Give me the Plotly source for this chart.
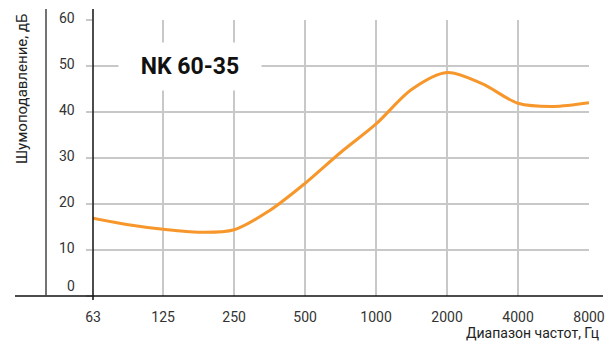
import numpy as np
import plotly.graph_objects as go

# Data (half-octave steps)
freq = [63, 89, 125, 177, 250, 354, 500, 707, 1000, 1414, 2000, 2828, 4000, 5657, 8000]
attenuation = [16.9, 15.5, 14.5, 13.85, 14.4, 18.6, 24.5, 31.2, 37.4, 44.9, 48.6, 46.1, 41.9, 41.2, 42.0]

x_ticks = [63, 125, 250, 500, 1000, 2000, 4000, 8000]
x_tick_text = ["63", "125", "250", "500", "1000", "2000", "4000", "8000"]
y_ticks = [0, 10, 20, 30, 40, 50, 60]

title_text = "NK 60-35"
y_title = "Шумоподавление, дБ"
x_title = "Диапазон частот, Гц"

FONT = "Roboto"
W, H = 612, 346
L, R, T, B = 93, 23, 20, 50
PW = W - L - R
PH = H - T - B

def px(xp):
    return (xp - L) / PW

def py(yp):
    return (H - B - yp) / PH

fig = go.Figure()
fig.add_trace(go.Scatter(
    x=freq, y=attenuation, mode="lines",
    line=dict(color="#F7962A", width=3, shape="spline", smoothing=0.9),
    hoverinfo="skip", showlegend=False,
))

grid = "#c8c8c8"
fig.update_xaxes(
    type="log", range=[np.log10(63), np.log10(8000)],
    tickvals=x_ticks, ticktext=x_tick_text,
    showgrid=True, gridcolor=grid, gridwidth=1.5,
    showline=False, zeroline=False, ticks="",
    ticklabelstandoff=11, automargin=False,
    tickfont=dict(family=FONT, size=14, color="#333333"),
)
fig.update_yaxes(
    range=[0, 60], tickvals=y_ticks,
    showgrid=True, gridcolor=grid, gridwidth=1.5,
    showline=False, zeroline=False,
    ticks="outside", ticklen=6, tickcolor=grid, tickwidth=1.5,
    showticklabels=False, automargin=False,
)

annotations = []
for v in y_ticks:
    annotations.append(dict(
        x=px(77), xref="paper", y=v, yref="y", xanchor="right", yanchor="middle",
        text=str(v), showarrow=False, yshift=(10 if v == 0 else 2),
        font=dict(family=FONT, size=14, color="#333333"),
    ))
annotations.append(dict(
    x=px(190), xref="paper", y=50, yref="y", xanchor="center", yanchor="middle",
    text="<b>" + title_text + "</b>", showarrow=False,
    bgcolor="white", borderpad=10, width=122,
    font=dict(family=FONT, size=23, color="#111111"),
))
annotations.append(dict(
    x=px(601), xref="paper", y=py(333), yref="paper", xanchor="right", yanchor="middle",
    text=x_title, showarrow=False,
    font=dict(family=FONT, size=14, color="#222222"),
))
annotations.append(dict(
    x=px(22), xref="paper", y=py(89), yref="paper", xanchor="center", yanchor="middle",
    text=y_title, showarrow=False, textangle=-90,
    font=dict(family=FONT, size=15, color="#222222"),
))

shapes = [
    dict(type="line", xref="paper", yref="paper", x0=px(15), x1=px(603), y0=0, y1=0,
         line=dict(color="#111111", width=1.5), layer="above"),
    dict(type="line", xref="paper", yref="paper", x0=0, x1=0, y0=py(300), y1=py(9),
         line=dict(color="#111111", width=1.5), layer="above"),
    dict(type="line", xref="paper", yref="paper", x0=px(46), x1=px(46), y0=0, y1=py(9),
         line=dict(color="#444444", width=1.5), layer="above"),
]

fig.update_layout(
    width=W, height=H,
    margin=dict(l=L, r=R, t=T, b=B, autoexpand=False),
    paper_bgcolor="white", plot_bgcolor="white",
    annotations=annotations, shapes=shapes,
    showlegend=False,
)

fig.write_html(
    "out.html",
    config={"displayModeBar": False},
    post_script="document.body.style.margin='0';document.body.style.overflow='hidden';",
)
